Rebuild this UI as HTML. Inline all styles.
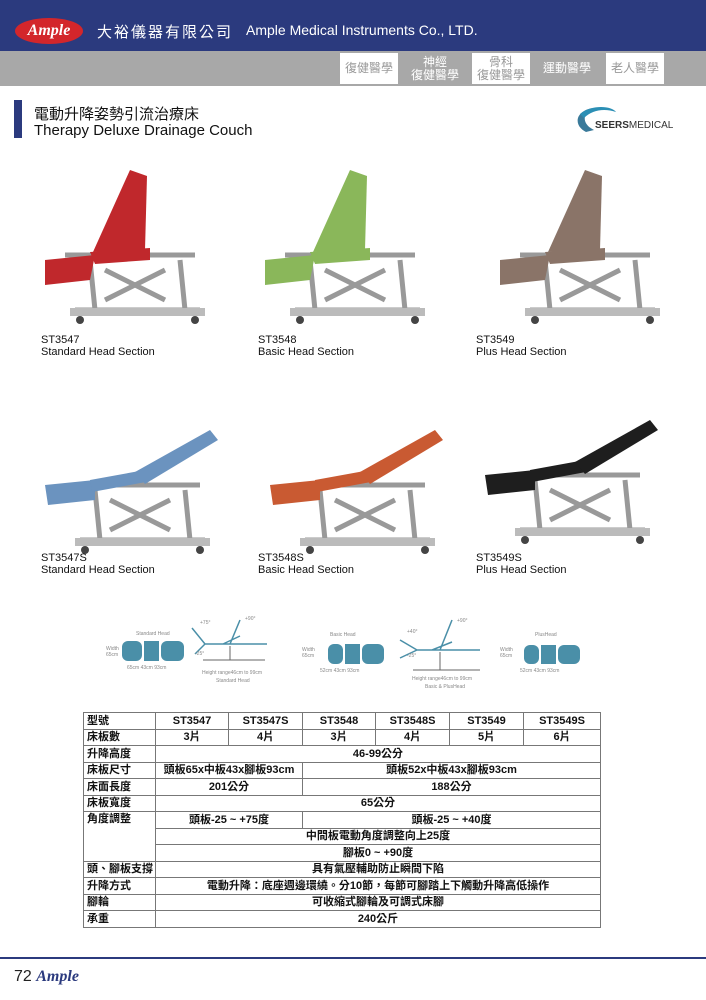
<!DOCTYPE html>
<html><head><meta charset="utf-8"><style>
*{margin:0;padding:0;box-sizing:border-box}
body{width:706px;height:1000px;background:#fff;position:relative;overflow:hidden;font-family:"Liberation Sans","Noto Sans CJK TC",sans-serif;color:#111}
.a{position:absolute}
.tab{position:absolute;top:53px;height:31px;width:58px;font-size:12px;line-height:13px;text-align:center;display:flex;align-items:center;justify-content:center;flex-direction:column}
.w{background:#fff;color:#999}.g{background:#a8a8a8;color:#fff}
.lbl{position:absolute;font-size:11px;line-height:12px;color:#111}
table{position:absolute;left:83px;top:712px;width:517px;border-collapse:collapse;font-size:11px;table-layout:fixed}
td{border:1px solid #777;height:16.5px;padding:0 3px;text-align:center;font-weight:bold;line-height:14px;white-space:nowrap}
td.h{text-align:left}
</style></head><body>
<div class="a" style="left:0;top:0;width:706px;height:51px;background:#2b3a7e"></div>
<div class="a" style="left:0;top:51px;width:706px;height:35px;background:#a8a8a8"></div>
<div class="a" style="left:15px;top:18px;width:68px;height:26px;border-radius:50%;background:#d3262b;color:#fff;font-family:'Liberation Serif',serif;font-style:italic;font-weight:bold;font-size:16px;text-align:center;line-height:26px">Ample</div>
<div class="a" style="left:97px;top:21px;color:#fff;font-size:15px;letter-spacing:2px">大裕儀器有限公司</div>
<div class="a" style="left:246px;top:22px;color:#fff;font-size:14px">Ample Medical Instruments Co., LTD.</div>
<div class="tab w" style="left:340px">復健醫學</div>
<div class="tab g" style="left:406px">神經<br>復健醫學</div>
<div class="tab w" style="left:472px">骨科<br>復健醫學</div>
<div class="tab g" style="left:538px">運動醫學</div>
<div class="tab w" style="left:606px">老人醫學</div>
<div class="a" style="left:14px;top:100px;width:8px;height:38px;background:#2b3a7e"></div>
<div class="a" style="left:34px;top:103px;font-size:15px">電動升降姿勢引流治療床</div>
<div class="a" style="left:34px;top:122px;font-size:15px">Therapy Deluxe Drainage Couch</div>
<svg class="a" style="left:572px;top:104px" width="104" height="32"><path d="M14 28 C2 22 2 8 20 4 C10 10 10 20 22 26Z" fill="#3a7a9a"/><path d="M8 10 C20 0 40 2 44 8 C32 4 20 6 12 14Z" fill="#2b8fb5"/></svg>
<div class="a" style="left:595px;top:120px;font-size:10px;font-weight:bold;color:#333">SEERS<span style="font-weight:normal">MEDICAL</span></div>

<svg class="a" style="left:0;top:150px" width="706" height="420">
<defs>
<g id="base"><path d="M30 95 L160 95 M40 150 L165 150 M55 100 L60 150 M145 100 L150 150 M70 110 L130 140 M70 140 L130 110" stroke="#999" stroke-width="5" fill="none"/><rect x="35" y="148" width="135" height="8" fill="#bbb"/><circle cx="45" cy="160" r="4" fill="#444"/><circle cx="160" cy="160" r="4" fill="#444"/></g>
<g id="c1"><use href="#base"/><path d="M10 100 L60 95 L55 120 L10 125 Z"/><path d="M55 92 L115 88 L115 100 L60 104Z"/><path d="M58 92 L95 10 L112 16 L110 90Z"/></g>
<g id="c2"><use href="#base" transform="translate(0,-10)"/><path d="M5 85 L55 80 L55 100 L8 105 Z"/><path d="M50 80 L105 70 L106 82 L52 92Z"/><path d="M95 72 L170 30 L178 40 L105 84Z"/></g>
</defs>
<g fill="#c0282c" transform="translate(35,10)"><use href="#c1"/></g>
<g fill="#8ab75a" transform="translate(255,10)"><use href="#c1"/></g>
<g fill="#8a7468" transform="translate(490,10)"><use href="#c1"/></g>
<g fill="#6b93bf" transform="translate(40,250)"><use href="#c2"/></g>
<g fill="#c95a32" transform="translate(265,250)"><use href="#c2"/></g>
<g fill="#1e1e1e" transform="translate(480,240)"><use href="#c2"/></g>
</svg>
<div class="lbl" style="left:41px;top:334px">ST3547<br>Standard Head Section</div>
<div class="lbl" style="left:258px;top:334px">ST3548<br>Basic Head Section</div>
<div class="lbl" style="left:476px;top:334px">ST3549<br>Plus Head Section</div>
<div class="lbl" style="left:41px;top:552px">ST3547S<br>Standard Head Section</div>
<div class="lbl" style="left:258px;top:552px">ST3548S<br>Basic Head Section</div>
<div class="lbl" style="left:476px;top:552px">ST3549S<br>Plus Head Section</div>

<svg class="a" style="left:80px;top:600px" width="520" height="100" font-family="Liberation Sans" font-size="5" fill="#888">
<g fill="#4a8fa8"><rect x="42" y="41" width="20" height="20" rx="6"/><rect x="64" y="41" width="15" height="20"/><rect x="81" y="41" width="23" height="20" rx="6"/>
<rect x="248" y="44" width="15" height="20" rx="6"/><rect x="265" y="44" width="15" height="20"/><rect x="282" y="44" width="22" height="20" rx="6"/>
<rect x="444" y="45" width="15" height="19" rx="6"/><rect x="461" y="45" width="15" height="19"/><rect x="478" y="45" width="22" height="19" rx="6"/></g>
<text x="56" y="35">Standard Head</text><text x="26" y="50">Width</text><text x="26" y="56">65cm</text><text x="47" y="69">65cm 43cm 93cm</text>
<text x="250" y="36">Basic Head</text><text x="222" y="51">Width</text><text x="222" y="57">65cm</text><text x="240" y="72">52cm 43cm 93cm</text>
<text x="455" y="36">PlusHead</text><text x="420" y="51">Width</text><text x="420" y="57">65cm</text><text x="440" y="72">52cm 43cm 93cm</text>
<g stroke="#4a8fa8" stroke-width="1.5" fill="none"><path d="M125 44 H187 M125 44 L112 28 M125 44 L115 54 M150 44 L160 20 M143 44 L160 36"/><path d="M337 50 H400 M337 50 L320 40 M337 50 L320 58 M360 50 L372 20 M352 50 L372 42"/></g>
<g stroke="#666"><path d="M150 46 V60 M123 60 H185 M360 52 V70 M333 70 H400"/></g>
<text x="122" y="74">Height range46cm to 99cm</text><text x="136" y="82">Standard Head</text>
<text x="332" y="80">Height range46cm to 99cm</text><text x="345" y="88">Basic &amp; PlusHead</text>
<text x="120" y="24">+75°</text><text x="165" y="20">+90°</text><text x="115" y="55">-25°</text>
<text x="327" y="33">+40°</text><text x="377" y="22">+90°</text><text x="327" y="57">-25°</text>
</svg>

<table>
<colgroup><col style="width:72px"><col style="width:73px"><col style="width:74px"><col style="width:73px"><col style="width:74px"><col style="width:74px"><col style="width:77px"></colgroup>
<tr><td class="h">型號</td><td>ST3547</td><td>ST3547S</td><td>ST3548</td><td>ST3548S</td><td>ST3549</td><td>ST3549S</td></tr>
<tr><td class="h">床板數</td><td>3片</td><td>4片</td><td>3片</td><td>4片</td><td>5片</td><td>6片</td></tr>
<tr><td class="h">升降高度</td><td colspan="6">46-99公分</td></tr>
<tr><td class="h">床板尺寸</td><td colspan="2">頭板65x中板43x腳板93cm</td><td colspan="4">頭板52x中板43x腳板93cm</td></tr>
<tr><td class="h">床面長度</td><td colspan="2">201公分</td><td colspan="4">188公分</td></tr>
<tr><td class="h">床板寬度</td><td colspan="6">65公分</td></tr>
<tr><td class="h" rowspan="3" style="vertical-align:top">角度調整</td><td colspan="2">頭板-25 ~ +75度</td><td colspan="4">頭板-25 ~ +40度</td></tr>
<tr><td colspan="6">中間板電動角度調整向上25度</td></tr>
<tr><td colspan="6">腳板0 ~ +90度</td></tr>
<tr><td class="h">頭、腳板支撐</td><td colspan="6">具有氣壓輔助防止瞬間下陷</td></tr>
<tr><td class="h">升降方式</td><td colspan="6">電動升降：底座週邊環繞。分10節，每節可腳踏上下觸動升降高低操作</td></tr>
<tr><td class="h">腳輪</td><td colspan="6">可收縮式腳輪及可調式床腳</td></tr>
<tr><td class="h">承重</td><td colspan="6">240公斤</td></tr>
</table>

<div class="a" style="left:0;top:957px;width:706px;height:2px;background:#2b3a7e"></div>
<div class="a" style="left:14px;top:968px;font-size:16px;color:#222">72 <span style="font-family:'Liberation Serif',serif;font-style:italic;font-weight:bold;color:#2b3a7e">Ample</span></div>
</body></html>
